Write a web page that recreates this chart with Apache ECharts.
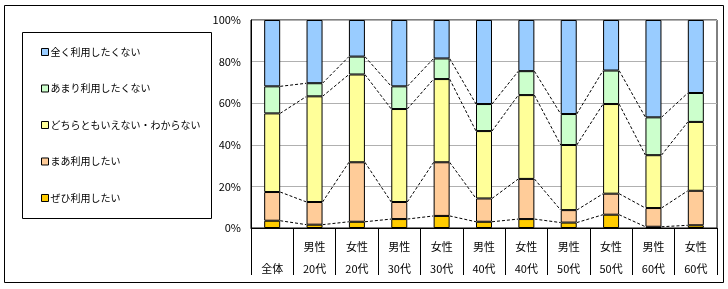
<!DOCTYPE html>
<html>
<head>
<meta charset="utf-8">
<script src="https://cdn.jsdelivr.net/npm/echarts@6/dist/echarts.min.js"></script>
<style>
html, body { margin: 0; padding: 0; background: #fff; }
#main { width: 728px; height: 289px; }
</style>
</head>
<body>
<div id="main"></div>
<script>
// categories (two line labels, 全体 sits on the lower line)
var categories = ['\n全体', '男性\n20代', '女性\n20代', '男性\n30代', '女性\n30代', '男性\n40代',
                  '女性\n40代', '男性\n50代', '女性\n50代', '男性\n60代', '女性\n60代'];

// percentages per answer
var zehi    = [3.5, 1.6, 3.0, 4.3, 5.8, 3.0, 4.3, 2.6, 6.4, 0.6, 1.3];      // ぜひ利用したい
var maa     = [13.8, 10.9, 28.6, 8.2, 25.8, 11.2, 19.3, 6.0, 10.1, 9.0, 16.6]; // まあ利用したい
var dochira = [37.8, 50.8, 42.2, 44.7, 40.0, 32.4, 40.3, 31.3, 43.1, 25.4, 33.1]; // どちらともいえない・わからない
var amari   = [13.0, 6.3, 8.6, 10.9, 9.9, 13.0, 11.5, 14.9, 16.1, 18.2, 13.9]; // あまり利用したくない
var mattaku = [31.9, 30.4, 17.6, 31.9, 18.5, 40.4, 24.6, 45.2, 24.3, 46.8, 35.1]; // 全く利用したくない

var yTicks = [0, 20, 40, 60, 80, 100];

var names = ['ぜひ利用したい', 'まあ利用したい', 'どちらともいえない・わからない', 'あまり利用したくない', '全く利用したくない'];
var colors = ['#FFCC00', '#FFCC99', '#FFFF99', '#CCFFCC', '#99CCFF'];
var values = [zehi, maa, dochira, amari, mattaku];

var BAR_W = 16;
var FONT = '"Noto Sans CJK JP", sans-serif';

var chart = echarts.init(document.getElementById('main'));

var series = values.map(function (v, k) {
  return {
    name: names[k],
    type: 'bar',
    stack: 'total',
    barWidth: BAR_W,
    data: v,
    itemStyle: { color: colors[k], borderColor: '#000', borderWidth: 1 },
    emphasis: { disabled: true }
  };
});

// series lines between bar tops (Excel style), from running totals
var running = zehi.map(function () { return 0; });
for (var k = 0; k < 4; k++) {
  running = running.map(function (r, i) { return r + values[k][i]; });
  var segs = [];
  for (var i = 0; i < categories.length - 1; i++) {
    segs.push([i, running[i], running[i + 1]]);
  }
  series.push({
    type: 'custom',
    silent: true,
    z: 1,
    data: segs,
    encode: { x: 0, y: 1 },
    renderItem: function (params, api) {
      var i = api.value(0);
      var p0 = api.coord([i, api.value(1)]);
      var p1 = api.coord([i + 1, api.value(2)]);
      return {
        type: 'line',
        shape: { x1: p0[0] + BAR_W / 2, y1: p0[1], x2: p1[0] - BAR_W / 2, y2: p1[1] },
        style: { stroke: '#000', lineWidth: 1, lineDash: [3, 2] }
      };
    }
  });
}

chart.setOption({
  animation: false,
  textStyle: { fontFamily: FONT },
  grid: { left: 251, top: 20, right: 11, bottom: 61, show: true, borderColor: '#000', borderWidth: 1 },
  legend: {
    orient: 'vertical',
    left: 36,
    top: 42,
    itemGap: 26.5,
    itemWidth: 7,
    itemHeight: 7,
    icon: 'rect',
    selectedMode: false,
    data: names.slice().reverse(),
    itemStyle: { borderColor: '#000', borderWidth: 1 },
    textStyle: { fontSize: 10, color: '#000', padding: [0, 0, 0, -3] }
  },
  graphic: [
    { type: 'rect', shape: { x: 4.5, y: 5.5, width: 719, height: 277 },
      style: { fill: 'none', stroke: '#000', lineWidth: 1 }, silent: true },
    { type: 'rect', shape: { x: 22.5, y: 32.5, width: 189, height: 186 },
      style: { fill: 'none', stroke: '#000', lineWidth: 1 }, silent: true }
  ],
  xAxis: {
    type: 'category',
    data: categories,
    axisLine: { lineStyle: { color: '#000' } },
    axisTick: { show: true, length: 47, interval: 0, lineStyle: { color: '#000' } },
    axisLabel: { interval: 0, color: '#000', fontSize: 11, lineHeight: 22, margin: 8 }
  },
  yAxis: {
    type: 'value',
    min: yTicks[0],
    max: yTicks[yTicks.length - 1],
    interval: yTicks[1] - yTicks[0],
    axisLine: { show: true, lineStyle: { color: '#000' } },
    axisTick: { show: false },
    axisLabel: { formatter: '{value}%', color: '#000', fontSize: 11, margin: 10 },
    splitLine: { lineStyle: { color: '#B0B0B0' } }
  },
  series: series
});
</script>
</body>
</html>
